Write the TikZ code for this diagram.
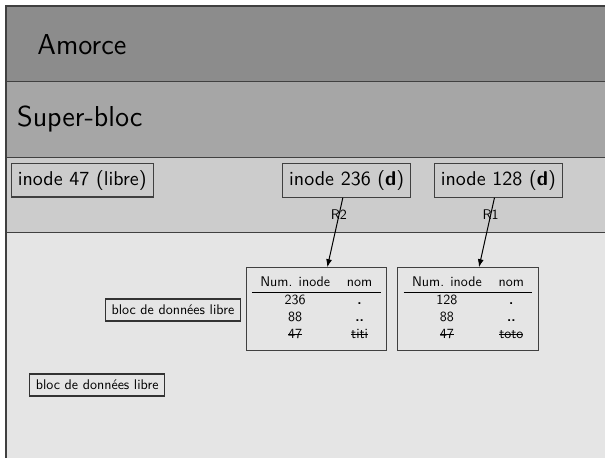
\documentclass[tikz,border=0pt]{standalone}
\usepackage{fontspec}
\usetikzlibrary{arrows.meta}
\renewcommand\familydefault{\sfdefault}
\setlength\arrayrulewidth{0.8pt}

% struck-out text for removed directory entries
\newcommand\barre[1]{\setbox0\hbox{#1}\rlap{\rule[0.6ex]{\wd0}{0.5pt}}\box0}

% directory block: inode number / name table
\newcommand\dirtable[2]{\scalebox{0.7}{\begin{tabular}{cc}
Num. inode & nom\\ \hline
#1 & \textbf{.}\\
88 & \textbf{..}\\
\barre{47} & \barre{#2}
\end{tabular}}}

\begin{document}
\begin{tikzpicture}[x=0.5pt,y=-0.5pt,
  band/.style={draw=black!75, line width=0.6pt},
  title/.style={anchor=base west, inner sep=0pt, font=\Large},
  ibox/.style={draw=black!75, line width=0.6pt, inner sep=3.33pt},
  lbox/.style={draw=black!80, line width=0.6pt, inner sep=3pt},
  tbox/.style={draw=black!75, line width=0.6pt, inner xsep=2.9pt, inner ysep=3.6pt},
  link/.style={draw=black, line width=0.5pt, -{Latex[length=4pt,width=3pt]}},
  rlabel/.style={inner sep=0pt}]
\useasboundingbox (0,0) rectangle (605,458);
\clip (0,0) rectangle (605,458);

% disk layout bands
\draw[band, fill=black!45] (6,6) rectangle (640,81.7);
\draw[band, fill=black!35] (6,81.7) rectangle (640,157.3);
\draw[band, fill=black!20] (6,157.3) rectangle (640,232.7);
\draw[band, fill=black!10] (6,232.7) rectangle (640,480);

\node[title] (amorce) at (37,54.3) {Amorce};
\node[title] (superbloc) at (16.7,126.7) {Super-bloc};

% inode table
\node[ibox] (i47) at (82.2,180.3) {inode 47 (libre)};
\node[ibox] (i236) at (346.7,180.5) {inode 236 (\textbf{d})};
\node[ibox] (i128) at (498.3,180.5) {inode 128 (\textbf{d})};

% data blocks
\node[lbox] (l1) at (172.9,310) {\scalebox{0.7}{bloc de données libre}};
\node[lbox] (l2) at (97.2,385) {\scalebox{0.7}{bloc de données libre}};
\node[tbox] (t1) at (316.3,309.2) {\dirtable{236}{titi}};
\node[tbox] (t2) at (468,309.2) {\dirtable{128}{toto}};

% inode -> data block references
\draw[link] (i236) -- node[rlabel, pos=0.25] {\scalebox{0.7}{R2}} ([xshift=5.5pt]t1.north);
\draw[link] (i128) -- node[rlabel, pos=0.25] {\scalebox{0.7}{R1}} ([xshift=5.5pt]t2.north);
\end{tikzpicture}
\end{document}
